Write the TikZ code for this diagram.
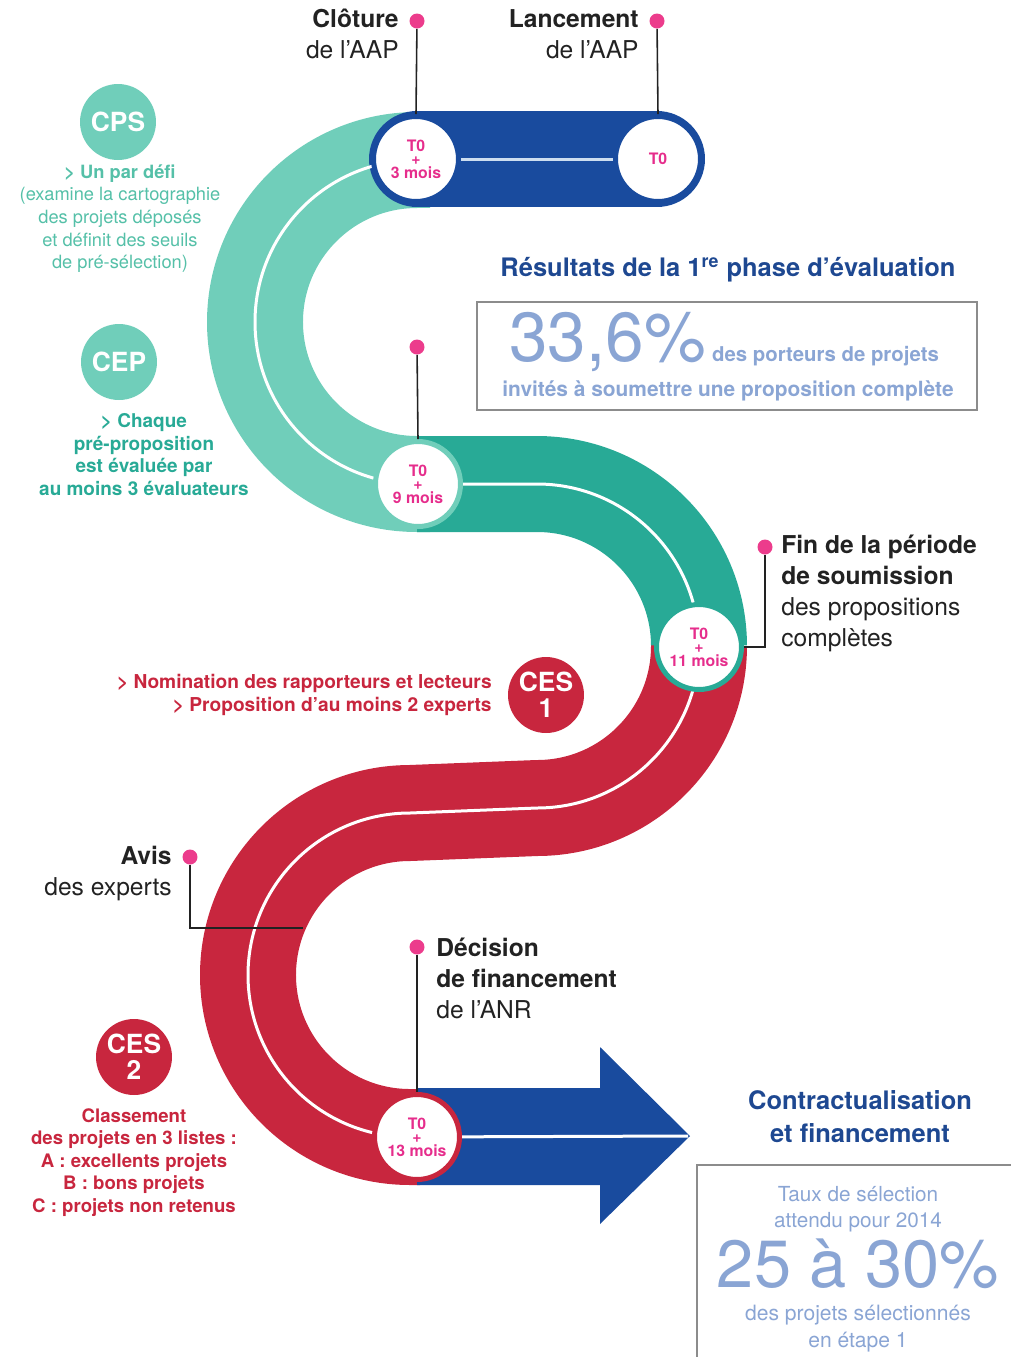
\documentclass[tikz,border=0pt]{standalone}
\usepackage{fontspec}
\setmainfont{TeX Gyre Heros}
\usepackage{xcolor}
\definecolor{anrBlue}{RGB}{25,75,158}
\definecolor{titleBlue}{RGB}{30,72,145}
\definecolor{paleBlue}{RGB}{205,222,240}
\definecolor{statBlue}{RGB}{138,165,212}
\definecolor{cpsTeal}{RGB}{112,206,186}
\definecolor{cepTeal}{RGB}{40,170,150}
\definecolor{noteTeal}{RGB}{85,192,168}
\definecolor{anrRed}{RGB}{200,38,62}
\definecolor{anrPink}{RGB}{236,60,140}
\definecolor{anrMagenta}{RGB}{230,45,140}
\definecolor{boxGray}{RGB}{140,140,140}
\definecolor{labelBlack}{RGB}{34,34,34}

\begin{document}
\begin{tikzpicture}[x=0.02cm, y=0.02cm]
  \tikzstyle{track} = [line width=1.92cm]
  \tikzstyle{midline} = [white, line width=0.06cm]
  \tikzstyle{stopcircle} = [circle, fill=white, line width=0.1cm, minimum size=1.7cm, inner sep=0, align=center, text=anrMagenta, font=\bfseries\fontsize{9}{7.6}\selectfont]
  \tikzstyle{pindot} = [circle, fill=anrPink, minimum size=0.3cm, inner sep=0]
  \tikzstyle{lead} = [labelBlack, line width=0.9pt]
  \tikzstyle{committee} = [circle, minimum size=1.52cm, inner sep=0, text=white, align=center, font=\bfseries\fontsize{15}{14.7}\selectfont]
  \tikzstyle{hdr} = [inner sep=0, text=labelBlack, font=\fontsize{14}{17.6}\selectfont]
  \useasboundingbox (0,0) rectangle (1011,-1357);

  % the S shaped track
  \draw[track, cpsTeal] (430,-160) -- (417,-160) arc[start angle=90, end angle=270, radius=162] -- (430,-484);
  \draw[track, cepTeal] (417,-484) -- (537,-484) arc[start angle=90, end angle=0, radius=162];
  \draw[track, anrRed] (699,-646) arc[start angle=0, end angle=-90, radius=162] -- (410,-813) arc[start angle=90, end angle=270, radius=162] -- (420,-1137);
  \fill[anrBlue] (417,-1088) -- (600,-1088) -- (600,-1047) -- (690,-1136) -- (600,-1224) -- (600,-1185) -- (417,-1185) -- cycle;
  \draw[track, anrBlue, line cap=round] (417,-159) -- (657,-159);
  \draw[midline] (417,-160) arc[start angle=90, end angle=270, radius=162] -- (537,-484) arc[start angle=90, end angle=-90, radius=162] -- (410,-813) arc[start angle=90, end angle=270, radius=162] -- (688,-1136);

  % stops
  \node[stopcircle, draw=anrBlue] (t3) at (416,-159) {T0\\+\\3 mois};
  \node[stopcircle, draw=anrBlue] (t0) at (658,-159) {T0};
  \node[stopcircle, draw=cpsTeal] (t9) at (418,-484) {T0\\+\\9 mois};
  \node[stopcircle, draw=cepTeal] (t11) at (699,-647) {T0\\+\\11 mois};
  \node[stopcircle, draw=anrRed] (t13) at (417,-1137) {T0\\+\\13 mois};
  \draw[midline, paleBlue] (t3) -- (t0);

  % milestones
  \node[pindot] (clodot) at (417,-21) {};
  \node[pindot] (landot) at (657,-21) {};
  \node[pindot] (ninedot) at (417,-347) {};
  \node[pindot] (findot) at (765,-547) {};
  \node[pindot] (avisdot) at (190,-857) {};
  \node[pindot] (decdot) at (417,-947) {};
  \coordinate (avisend) at (303,-928);
  \draw[lead] (clodot) -- (t3.north);
  \draw[lead] (landot) -- (t0.north);
  \draw[lead] (ninedot) -- (t9.north);
  \draw[lead] (findot) |- (t11.east);
  \draw[lead] (avisdot) |- (avisend);
  \draw[lead] (decdot) -- (t13.north);

  \node[hdr, anchor=north east, align=right] (cloture) at (399,-9) {\textbf{Clôture}\\de l’AAP};
  \node[hdr, anchor=north east, align=right] (lancement) at (639,-9) {\textbf{Lancement}\\de l’AAP};
  \node[hdr, anchor=north west, align=left] (finsoum) at (781,-535) {\textbf{Fin de la période}\\\textbf{de soumission}\\des propositions\\complètes};
  \node[hdr, anchor=north east, align=right] (avis) at (172,-846) {\textbf{Avis}\\des experts};
  \node[hdr, anchor=north west, align=left] (decision) at (436,-938) {\textbf{Décision}\\\textbf{de financement}\\de l’ANR};

  % committees
  \node[committee, fill=cpsTeal] (cps) at (118,-122) {CPS};
  \node[anchor=north, align=center, inner sep=0, text=noteTeal, font=\fontsize{10.4}{12.9}\selectfont] (cpsnote) at (120,-164) {\textbf{> Un par défi}\\(examine la cartographie\\des projets déposés\\et définit des seuils\\de pré-sélection)};
  \node[committee, fill=cpsTeal] (cep) at (119,-362) {CEP};
  \node[anchor=north, align=center, inner sep=0, text=cepTeal, font=\bfseries\fontsize{10.8}{12.9}\selectfont] (cepnote) at (144,-413) {> Chaque\\pré-proposition\\est évaluée par\\au moins 3 évaluateurs};
  \node[committee, fill=anrRed] (ces1) at (546,-695) {CES\\1};
  \node[anchor=north east, align=right, inner sep=0, text=anrRed, font=\bfseries\fontsize{10.9}{13}\selectfont] (ces1note) at (492,-674) {> Nomination des rapporteurs et lecteurs\\> Proposition d’au moins 2 experts};
  \node[committee, fill=anrRed] (ces2) at (134,-1057) {CES\\2};
  \node[anchor=north, align=center, inner sep=0, text=anrRed, font=\bfseries\fontsize{10.6}{12.8}\selectfont] (ces2note) at (134,-1108) {Classement\\des projets en 3 listes :\\A : excellents projets\\B : bons projets\\C : projets non retenus};

  % results
  \node[inner sep=0, text=titleBlue, font=\bfseries\fontsize{14.5}{17}\selectfont] (restitle) at (728,-270) {Résultats de la 1\textsuperscript{re} phase d’évaluation};
  \node[draw=boxGray, line width=0.03cm, minimum width=10cm, minimum height=2.16cm] (resbox) at (727,-356) {};
  \node[anchor=base west, inner sep=0, text=statBlue, font=\fontsize{39.5}{40}\selectfont] (rate1) at (509,-361) {33,6\%};
  \node[anchor=base west, inner sep=0, text=statBlue, font=\bfseries\fontsize{11.6}{14}\selectfont] (rate1txt) at ([xshift=3pt]rate1.base east) {des porteurs de projets};
  \node[anchor=base, inner sep=0, text=statBlue, font=\bfseries\fontsize{11.9}{14}\selectfont] (rate1more) at (728,-396) {invités à soumettre une proposition complète};

  \node[inner sep=0, align=center, text=titleBlue, font=\bfseries\fontsize{14.5}{18.7}\selectfont] (contract) at (860,-1117) {Contractualisation\\et financement};
  \draw[boxGray, line width=0.03cm] (697,-1165) rectangle (1030,-1380);
  \node[inner sep=0, align=center, text=statBlue, font=\fontsize{11.8}{14.7}\selectfont] (taux) at (858,-1209) {Taux de sélection\\attendu pour 2014};
  \node[anchor=base, inner sep=0, text=statBlue, font=\fontsize{38}{40}\selectfont] (rate2) at (858,-1287) {25 à 30\%};
  \node[anchor=north, inner sep=0, align=center, text=statBlue, font=\fontsize{12}{15}\selectfont] (rate2txt) at (858,-1305) {des projets sélectionnés\\en étape 1};
\end{tikzpicture}
\end{document}
